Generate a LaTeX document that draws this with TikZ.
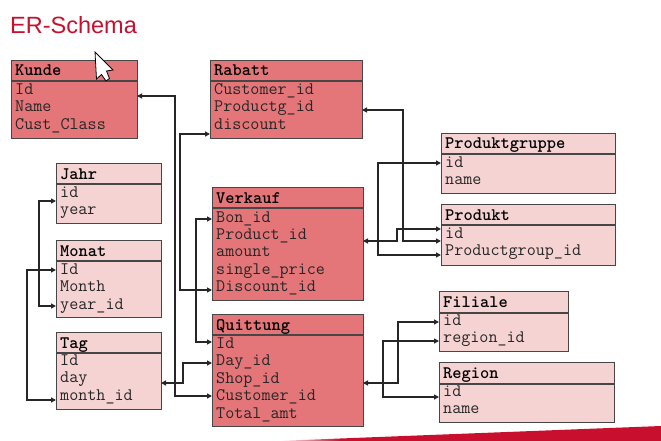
\documentclass[tikz,border=0pt]{standalone}
\usepackage{fontspec}
\setmainfont{Liberation Sans}
\usetikzlibrary{arrows.meta}
\definecolor{ered}{RGB}{200,16,46}
\definecolor{dkfill}{RGB}{228,118,121}
\definecolor{ltfill}{RGB}{246,211,211}
\definecolor{frame}{RGB}{70,70,70}
\tikzset{
	tab/.style={draw=frame,line width=1.2pt,anchor=north west,inner sep=0pt},
	dk/.style={tab,fill=dkfill},
	lt/.style={tab,fill=ltfill},
	hd/.style={anchor=base west,inner sep=0pt,font=\ttfamily\bfseries\fontsize{17.6}{17.4}\selectfont},
	rw/.style={anchor=base west,inner sep=0pt,align=left,text=black!85,font=\ttfamily\fontsize{17.6}{17.4}\selectfont},
	fk/.style={{Triangle[length=5pt,width=5pt]}-{Triangle[length=5pt,width=5pt]},line width=1.8pt,draw=black!85}
}
\begin{document}
\begin{tikzpicture}[x=1pt,y=-1pt]
		\useasboundingbox (0,0) rectangle (661,441);
		\node[anchor=base west,inner sep=0pt,text=ered,font=\fontsize{23.5}{28}\selectfont] (title) at (10,33.5) {ER-Schema};
		% tables (row text sits on its last baseline)
		\node[dk,minimum width=126pt,minimum height=20pt] (kunde) at (11,60) {};
		\node[dk,minimum width=126pt,minimum height=57pt] (kunde-b) at (kunde.south west) {};
		\node[hd] (kunde-t) at (15,76) {Kunde};
		\node[rw] (kunde-r) at (15,129.3) {Id\\Name\\Cust\_Class};
		\node[dk,minimum width=152pt,minimum height=20pt] (rabatt) at (210,60) {};
		\node[dk,minimum width=152pt,minimum height=57pt] (rabatt-b) at (rabatt.south west) {};
		\node[hd] (rabatt-t) at (214,76) {Rabatt};
		\node[rw] (rabatt-r) at (214,129.3) {Customer\_id\\Productg\_id\\discount};
		\node[lt,minimum width=105pt,minimum height=20pt] (jahr) at (56,163) {};
		\node[lt,minimum width=105pt,minimum height=39pt] (jahr-b) at (jahr.south west) {};
		\node[hd] (jahr-t) at (60,179) {Jahr};
		\node[rw] (jahr-r) at (60,214.9) {id\\year};
		\node[lt,minimum width=105pt,minimum height=20pt] (monat) at (56,240) {};
		\node[lt,minimum width=105pt,minimum height=56pt] (monat-b) at (monat.south west) {};
		\node[hd] (monat-t) at (60,256) {Monat};
		\node[rw] (monat-r) at (60,309.3) {Id\\Month\\year\_id};
		\node[lt,minimum width=105pt,minimum height=20pt] (tag) at (56,332) {};
		\node[lt,minimum width=105pt,minimum height=56pt] (tag-b) at (tag.south west) {};
		\node[hd] (tag-t) at (60,348) {Tag};
		\node[rw] (tag-r) at (60,400.3) {Id\\day\\month\_id};
		\node[dk,minimum width=151pt,minimum height=20pt] (verkauf) at (212,187) {};
		\node[dk,minimum width=151pt,minimum height=92pt] (verkauf-b) at (verkauf.south west) {};
		\node[hd] (verkauf-t) at (216,203) {Verkauf};
		\node[rw] (verkauf-r) at (216,291.6) {Bon\_id\\Product\_id\\amount\\single\_price\\Discount\_id};
		\node[dk,minimum width=151pt,minimum height=20pt] (quittung) at (212,314) {};
		\node[dk,minimum width=151pt,minimum height=91pt] (quittung-b) at (quittung.south west) {};
		\node[hd] (quittung-t) at (216,330) {Quittung};
		\node[rw] (quittung-r) at (216,418.1) {Id\\Day\_id\\Shop\_id\\Customer\_id\\Total\_amt};
		\node[lt,minimum width=174pt,minimum height=20pt] (gruppe) at (441,133) {};
		\node[lt,minimum width=174pt,minimum height=39pt] (gruppe-b) at (gruppe.south west) {};
		\node[hd] (gruppe-t) at (445,149) {Produktgruppe};
		\node[rw] (gruppe-r) at (445,184.9) {id\\name};
		\node[lt,minimum width=174pt,minimum height=20pt] (produkt) at (441,204) {};
		\node[lt,minimum width=174pt,minimum height=40pt] (produkt-b) at (produkt.south west) {};
		\node[hd] (produkt-t) at (445,220) {Produkt};
		\node[rw] (produkt-r) at (445,255.9) {id\\Productgroup\_id};
		\node[lt,minimum width=129pt,minimum height=21pt] (filiale) at (439,291) {};
		\node[lt,minimum width=129pt,minimum height=38pt] (filiale-b) at (filiale.south west) {};
		\node[hd] (filiale-t) at (443,307.5) {Filiale};
		\node[rw] (filiale-r) at (443,342.9) {id\\region\_id};
		\node[lt,minimum width=175pt,minimum height=21pt] (region) at (439,362) {};
		\node[lt,minimum width=175pt,minimum height=38pt] (region-b) at (region.south west) {};
		\node[hd] (region-t) at (443,378.5) {Region};
		\node[rw] (region-r) at (443,413.9) {id\\name};
		% key ends
		\coordinate (kunde-id) at (137,96);
		\coordinate (rabatt-prod) at (362,110);
		\coordinate (rabatt-disc) at (210,134);
		\coordinate (jahr-id) at (56,201);
		\coordinate (monat-id) at (56,270);
		\coordinate (monat-year) at (56,306);
		\coordinate (tag-day) at (161,383);
		\coordinate (tag-month) at (56,400);
		\coordinate (verkauf-bon) at (212,219);
		\coordinate (verkauf-prod) at (363,241);
		\coordinate (verkauf-disc) at (212,290);
		\coordinate (quittung-id) at (212,342);
		\coordinate (quittung-day) at (212,363);
		\coordinate (quittung-shop) at (363,383);
		\coordinate (quittung-cust) at (212,396);
		\coordinate (gruppe-id) at (441,163);
		\coordinate (produkt-id) at (441,229);
		\coordinate (produkt-id2) at (441,241);
		\coordinate (produkt-grp) at (441,255);
		\coordinate (filiale-id) at (439,322);
		\coordinate (filiale-reg) at (439,341);
		\coordinate (region-id) at (439,397);
		\draw[fk] (kunde-id) -- ++(38,0) |- (quittung-cust);
		\draw[fk] (rabatt-disc) -- ++(-30,0) |- (verkauf-disc);
		\draw[fk] (verkauf-bon) -- ++(-16,0) |- (quittung-id);
		\draw[fk] (tag-day) -- ++(22,0) |- (quittung-day);
		\draw[fk] (jahr-id) -- ++(-17,0) |- (monat-year);
		\draw[fk] (monat-id) -- ++(-29,0) |- (tag-month);
		\draw[fk] (verkauf-prod) -- ++(34,0) |- (produkt-id);
		\draw[fk] (rabatt-prod) -- ++(41,0) |- (produkt-id2);
		\draw[fk] (gruppe-id) -- ++(-63,0) |- (produkt-grp);
		\draw[fk] (quittung-shop) -- ++(35,0) |- (filiale-id);
		\draw[fk] (filiale-reg) -- ++(-56,0) |- (region-id);
		% pointer and footer band
		\draw[fill=white,line width=0.8pt] (95,52) -- (113,70) -- (106.5,71) -- (109.5,78.5) -- (106,81) -- (101.5,74.5) -- (96.5,79) -- cycle;
		\shade[left color=white,right color=ered] (277,441) -- (340,438.5) -- (340,441) -- cycle;
		\fill[ered] (340,438.5) -- (661,426) -- (661,441) -- (340,441) -- cycle;
	\end{tikzpicture}
\end{document}
